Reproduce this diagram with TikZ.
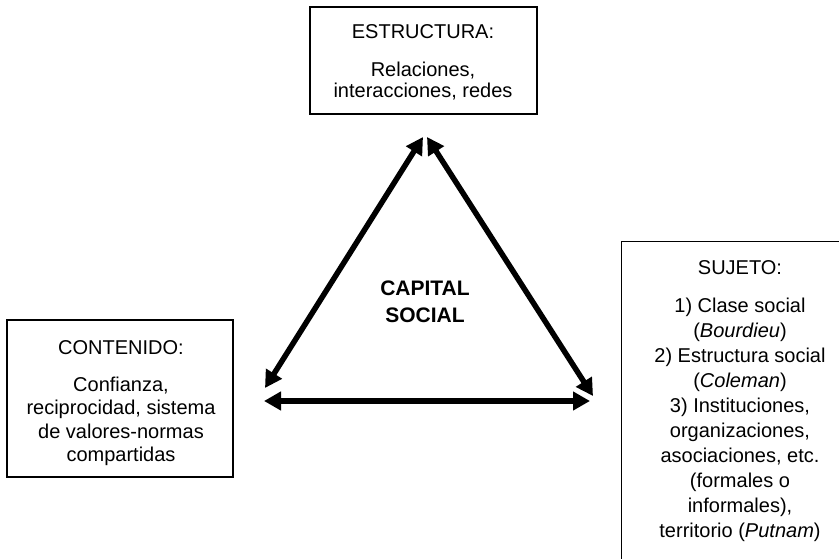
\documentclass[tikz,border=0pt]{standalone}
\usepackage{fontspec}
\setmainfont{Liberation Sans}
\usetikzlibrary{arrows.meta}
\tikzset{
  txt/.style={font=\fontsize{20}{25}\selectfont, align=center, inner sep=0pt, anchor=north},
  box/.style={draw, line width=1.2pt, inner sep=0pt},
  dbl/.style={line width=5.5pt, {Triangle[length=17pt,width=18pt]}-{Triangle[length=17pt,width=18pt]}},
}
\begin{document}
\begin{tikzpicture}[x=1pt,y=-1pt]
\useasboundingbox (0,0) rectangle (839,559);
% boxes
\node[box, minimum width=227pt, minimum height=107pt] (estbox) at (423.5,60.5) {};
\node[box, minimum width=226pt, minimum height=157pt] (contbox) at (120,398.5) {};
\node[box, anchor=north west, minimum width=260pt, minimum height=340pt] (sujbox) at (621,241) {};
% texts
\node[txt, font=\fontsize{20}{21}\selectfont] (est) at (423,24)
  {ESTRUCTURA:\\[17pt]Relaciones,\\interacciones, redes};
\node[txt, font=\fontsize{20}{23.5}\selectfont] (cont) at (121,340)
  {CONTENIDO:\\[13.5pt]Confianza,\\reciprocidad, sistema\\de valores-normas\\compartidas};
\node[txt] (suj) at (740,260)
  {SUJETO:\\[13pt]1) Clase social\\(\textit{Bourdieu})\\2) Estructura social\\(\textit{Coleman})\\3) Instituciones,\\organizaciones,\\asociaciones, etc.\\(formales o\\informales),\\territorio (\textit{Putnam})};
\node[font=\fontsize{21}{27}\selectfont\bfseries, align=center] (cap) at (425,302) {CAPITAL\\SOCIAL};
% triangle of arrows
\coordinate (tl) at (423,137);
\coordinate (tr) at (427,137);
\coordinate (bl) at (265,388);
\coordinate (br) at (593,396);
\coordinate (hl) at (264,401);
\coordinate (hr) at (590,401);
\draw[dbl] (bl) -- (tl);
\draw[dbl] (tr) -- (br);
\draw[dbl] (hl) -- (hr);
\end{tikzpicture}
\end{document}
